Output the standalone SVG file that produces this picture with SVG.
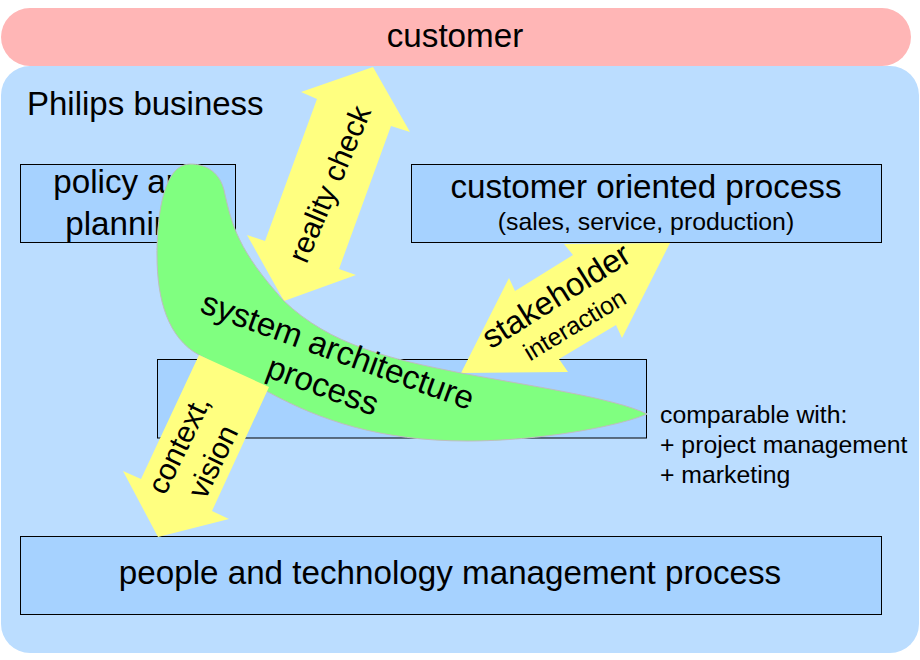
<svg xmlns="http://www.w3.org/2000/svg" width="920" height="660" viewBox="0 0 920 660">
<style>
text{font-family:"Liberation Sans",Arial,sans-serif;fill:#000}
.m{text-anchor:middle}
.s32{font-size:33.2px}.s24{font-size:24.8px}
.box{fill:#A6D2FF;stroke:#000;stroke-width:1}
.arrow{fill:#FFFF80}
</style>
<rect width="920" height="660" fill="#fff"/>
<g id="customer"><rect x="1" y="8" width="910" height="58" rx="29" fill="#FFB6B6"/><text class="m s32" x="455" y="47">customer</text></g>
<g id="philips-business"><rect x="1" y="66" width="918" height="587" rx="29" fill="#BBDDFF"/><text class="s32" x="27" y="115" style="font-size:33px">Philips business</text></g>
<g id="policy-planning"><rect class="box" x="20.5" y="164.5" width="215" height="78"/><text class="m s32" x="128" y="193">policy and</text><text class="m s32" x="128" y="235">planning</text></g>
<g id="customer-oriented-process"><rect class="box" x="411.5" y="164.5" width="470" height="78"/><text class="m s32" x="646" y="198">customer oriented process</text><text class="m s24" x="646" y="230">(sales, service, production)</text></g>
<g id="middle-box"><rect class="box" x="157.500" y="359.5" width="489" height="78.500"/></g>
<g id="people-technology"><rect class="box" x="20.5" y="536.5" width="861" height="78"/><text class="m s32" x="450" y="584">people and technology management process</text></g>
<g id="comparable-note"><text class="s24" x="660" y="423">comparable with:</text><text class="s24" x="660" y="453">+ project management</text><text class="s24" x="660" y="483">+ marketing</text></g>
<g id="connectors">
<polygon class="arrow" points="373,67 410,132 391,126 339,269 356,275 284,301 247,235 265,241 317,99 301,92"/>
<polygon class="arrow" points="670,243 564,244 573,255 515,291 509,278 461,373 568,372 559,359 616,325 622,338"/>
</g>
<g id="system-architecture-process">
<path d="M190,164 C208,164 220,174 224,190 C232,226 238,250 284,301 C330,345 390,359 461,373 C530,386 615,398 647,414 C620,426 540,441 467,441 C380,441 320,420 270,393 L199,355 C168,338 157,300 157,255 C157,210 165,164 190,164Z" fill="#80FF80" stroke="#BEBEBE" stroke-width="1"/>
</g>
<g id="context-arrow"><polygon class="arrow" points="199,355 269,387 212,511 229,519 158,537 123,471 141,479"/></g>
<g id="labels">
<text class="m" font-size="30" transform="translate(339,188) rotate(-67)">reality check</text>
<text class="m" font-size="32.500" transform="translate(562,305) rotate(-32)">stakeholder</text>
<text class="m" font-size="24.800" transform="translate(579,332) rotate(-31)">interaction</text>
<text class="m" font-size="33.200" transform="translate(334,361) rotate(20)">system architecture</text>
<text class="m" font-size="33.200" transform="translate(319,396) rotate(20)">process</text>
<text class="m" font-size="30" transform="translate(188,449) rotate(-64)">context,</text>
<text class="m" font-size="30" transform="translate(222,466) rotate(-64)">vision</text>
</g>
</svg>
